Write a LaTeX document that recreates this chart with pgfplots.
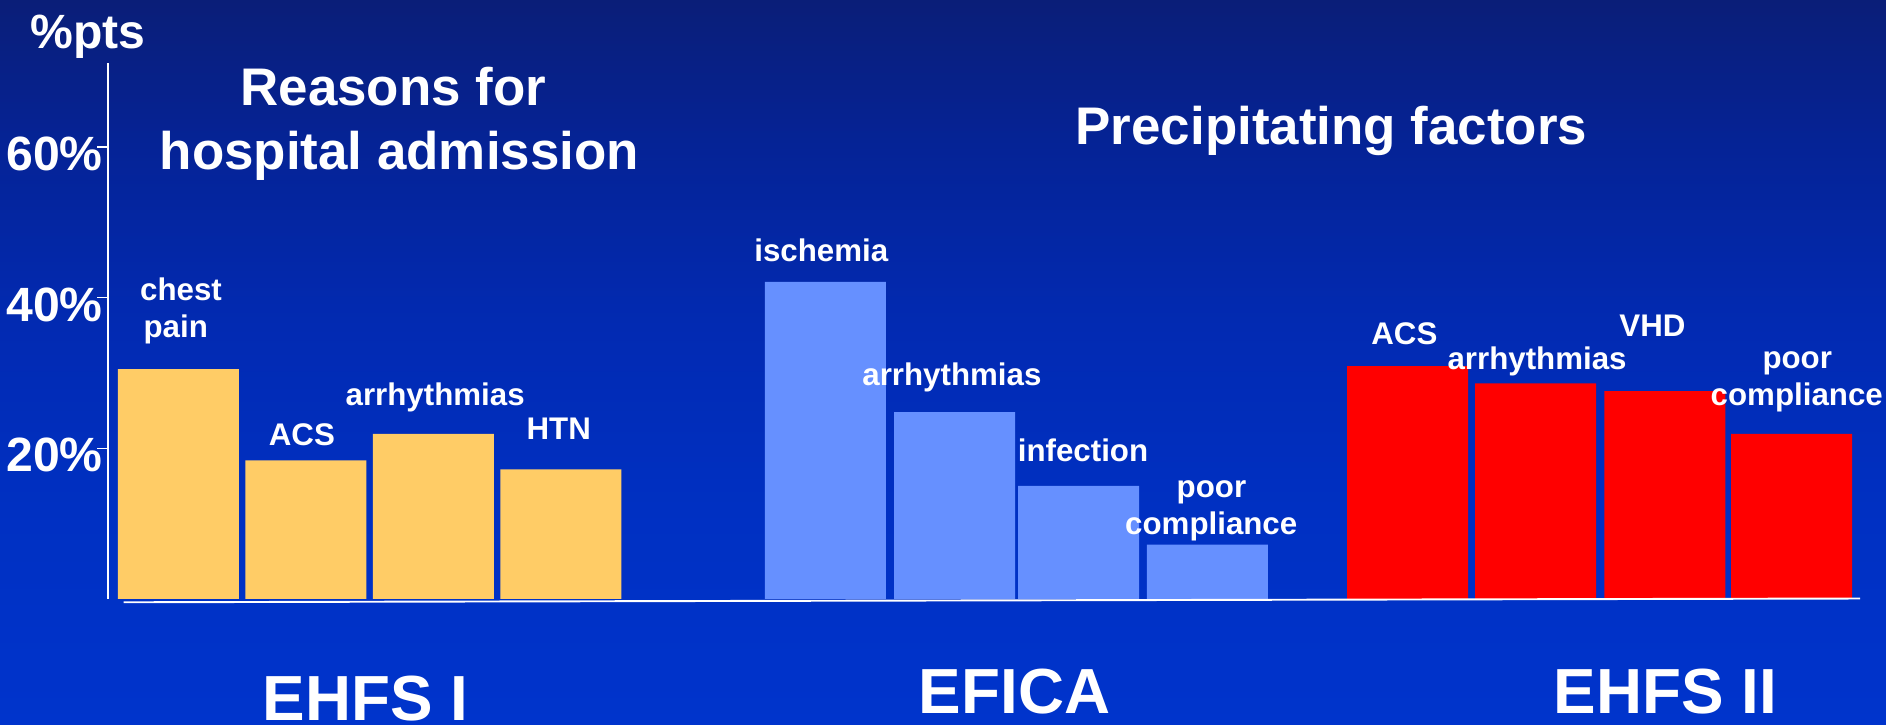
\documentclass[border=0pt]{standalone}
\usepackage{pgfplots}
\pgfplotsset{compat=1.18}
\usepackage{fontspec}
\setmainfont{Liberation Sans}
\definecolor{bgA}{RGB}{0,52,204}
\definecolor{bgB}{RGB}{0,48,194}
\definecolor{bgC}{RGB}{2,42,178}
\definecolor{bgD}{RGB}{5,35,150}
\definecolor{bgE}{RGB}{10,30,120}
\pgfdeclareverticalshading{bgshade}{100bp}{color(0bp)=(bgA); color(25bp)=(bgA); color(40bp)=(bgB); color(52.5bp)=(bgC); color(65bp)=(bgD); color(75bp)=(bgE); color(100bp)=(bgE)}
\definecolor{barorange}{RGB}{255,204,102}
\definecolor{barblue}{RGB}{102,144,255}
\definecolor{barred}{RGB}{255,0,0}
\newcommand{\fs}[1]{\fontsize{#1}{#1}\selectfont\bfseries}

\begin{document}
\begin{tikzpicture}[x=1pt,y=1pt]
\path[use as bounding box] (0,0) rectangle (784,301);
\clip (0,0) rectangle (784,301);
\shade[shading=bgshade] (0,0) rectangle (784,301);
\begin{axis}[
  at={(44.85pt,52.05pt)}, anchor=south west,
  scale only axis, width=739.15pt, height=222.6pt,
  xmin=-0.553, xmax=13.393, ymin=0, ymax=71.1,
  axis y line=left, axis x line=none,
  axis line style={-, white, line width=0.8pt},
  ytick={20,40,60}, yticklabels={20\%,40\%,60\%},
  xtick=\empty,
  tick align=outside, major tick length=4.5pt,
  tick style={white, line width=0.6pt},
  yticklabel style={font=\fs{20}, text=white, anchor=base east, inner sep=0pt, xshift=2.5pt, yshift=-9.85pt},
  clip=false,
]
% EHFS I: chest pain, ACS, arrhythmias, HTN
\addplot[ybar, bar width=50.3pt, bar shift=0pt, fill=barorange, draw=none]
  coordinates {(0,30.5) (1,18.4) (2,21.9) (3,17.2)};
% EFICA: ischemia, arrhythmias, infection, poor compliance
\addplot[ybar, bar width=50.3pt, bar shift=0pt, fill=barblue, draw=none]
  coordinates {(5.075,42.1) (6.088,24.8) (7.061,15.0) (8.071,7.2)};
% EHFS II: ACS, arrhythmias, VHD, poor compliance
\addplot[ybar, bar width=50.3pt, bar shift=0pt, fill=barred, draw=none]
  coordinates {(9.640,30.9) (10.644,28.6) (11.658,27.6) (12.653,21.9)};
% baseline
\addplot[white, line width=0.8pt, mark=none] coordinates {(-0.43,-0.45) (13.19,0.05)};
\end{axis}
\begin{scope}[every node/.style={text=white, inner sep=0pt}]
\node[anchor=base, font=\fs{20}] at (36.5,281) {\%pts};
\node[anchor=base, font=\fs{22}] at (163.5,257) {Reasons for};
\node[anchor=base, font=\fs{22}] at (166,230.5) {hospital admission};
\node[anchor=base, font=\fs{22}] at (553.5,240.75) {Precipitating factors};
\node[anchor=base, font=\fs{26.5}] at (152,1.5) {EHFS I};
\node[anchor=base, font=\fs{26.5}] at (421.75,4.5) {EFICA};
\node[anchor=base, font=\fs{26.5}] at (692.25,4.5) {EHFS II};
% bar labels
\node[anchor=base, font=\fs{13}] at (75.25,176) {chest};
\node[anchor=base, font=\fs{13}] at (73.05,160.75) {pain};
\node[anchor=base, font=\fs{13}] at (125.5,116) {ACS};
\node[anchor=base, font=\fs{13}] at (180.9,132.35) {arrhythmias};
\node[anchor=base, font=\fs{13}] at (232.25,118.5) {HTN};
\node[anchor=base, font=\fs{13}] at (341.4,192.25) {ischemia};
\node[anchor=base, font=\fs{13}] at (395.7,140.7) {arrhythmias};
\node[anchor=base, font=\fs{13}] at (450.2,109.1) {infection};
\node[anchor=base, font=\fs{13}] at (503.6,94.25) {poor};
\node[anchor=base, font=\fs{13}] at (503.5,79) {compliance};
\node[anchor=base, font=\fs{13}] at (583.8,157.85) {ACS};
\node[anchor=base, font=\fs{13}] at (638.95,147.5) {arrhythmias};
\node[anchor=base, font=\fs{13}] at (686.9,161.05) {VHD};
\node[anchor=base, font=\fs{13}] at (747.1,147.9) {poor};
\node[anchor=base, font=\fs{13}] at (746.9,132.25) {compliance};
\end{scope}
\end{tikzpicture}
\end{document}
